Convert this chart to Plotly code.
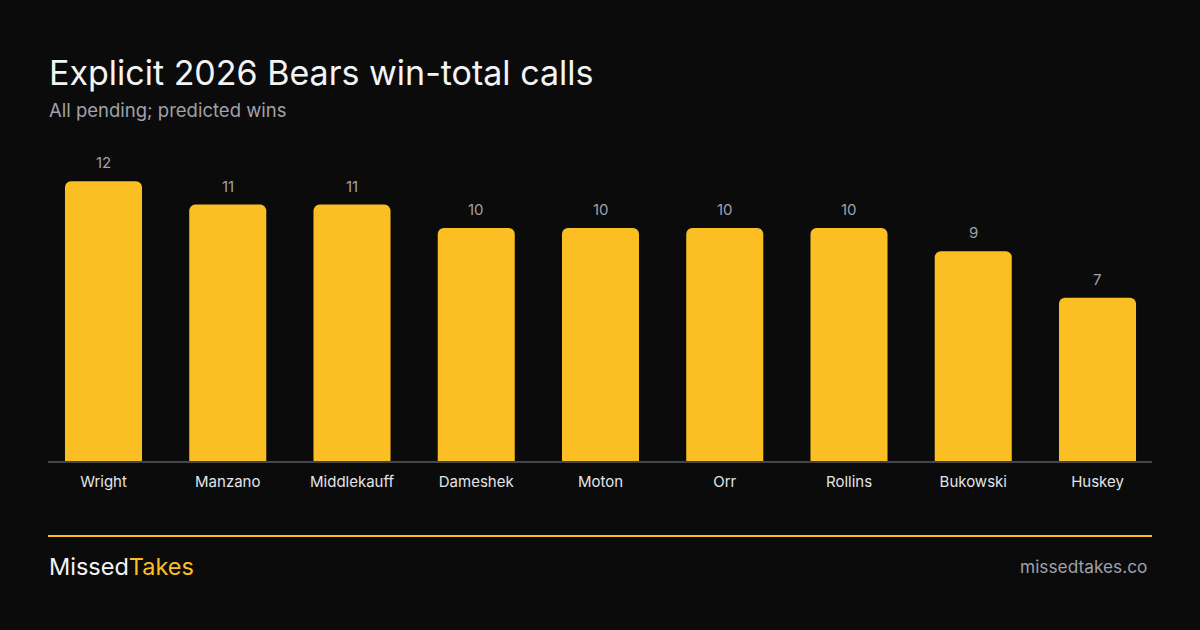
import plotly.graph_objects as go

players = ["Wright", "Manzano", "Middlekauff", "Dameshek", "Moton", "Orr", "Rollins", "Bukowski", "Huskey"]
wins = [12, 11, 11, 10, 10, 10, 10, 9, 7]

title_text = "Explicit 2026 Bears win-total calls"
subtitle_text = "All pending; predicted wins"
brand_a = "Missed"
brand_b = "Takes"
site_text = "missedtakes.co"

W, H = 1200, 630
BG = "#0b0b0b"
BAR = "#fbbf24"
FONT = "Inter"

# plot area in pixels
L, R = 48, 1152
TOP, BOT = 157.7, 461

def px(xp):
    return (xp - L) / (R - L)

def py(yp):
    return (BOT - yp) / (BOT - TOP)

fig = go.Figure()
fig.add_trace(go.Bar(
    x=list(range(len(players))), y=wins, width=0.62,
    marker=dict(color=BAR, line=dict(width=0)),
    hoverinfo="skip",
))

annotations = []
for i, v in enumerate(wins):
    annotations.append(dict(x=i, y=v, xref="x", yref="y", text=str(v), showarrow=False,
                            yanchor="bottom", yshift=7,
                            font=dict(family=FONT, size=15, color="#a1a1aa")))

annotations += [
    dict(x=px(47), y=py(72), xref="paper", yref="paper", text=title_text, showarrow=False,
         xanchor="left", yanchor="middle", font=dict(family=FONT, size=34, color="#f4f4f5")),
    dict(x=px(47), y=py(110), xref="paper", yref="paper", text=subtitle_text, showarrow=False,
         xanchor="left", yanchor="middle", font=dict(family=FONT, size=18.5, color="#a1a1aa")),
    dict(x=px(47), y=py(567), xref="paper", yref="paper",
         text=f"<span style='color:#f4f4f5'>{brand_a}</span><span style='color:{BAR}'>{brand_b}</span>",
         showarrow=False, xanchor="left", yanchor="middle", font=dict(family=FONT, size=23.5)),
    dict(x=px(1149), y=py(567), xref="paper", yref="paper", text=site_text, showarrow=False,
         xanchor="right", yanchor="middle", font=dict(family=FONT, size=17.3, color="#a1a1aa")),
]

shapes = [
    dict(type="line", xref="paper", yref="paper", x0=px(48), x1=px(1152), y0=py(536), y1=py(536),
         line=dict(color=BAR, width=2)),
]

fig.update_layout(
    width=W, height=H,
    paper_bgcolor=BG, plot_bgcolor=BG,
    margin=dict(l=L, r=W - R, t=TOP, b=H - BOT, pad=0),
    showlegend=False,
    barcornerradius=6,
    annotations=annotations,
    shapes=shapes,
    xaxis=dict(range=[-0.4467, 8.4386], tickmode="array", tickvals=list(range(len(players))),
               ticktext=players, showgrid=False, zeroline=False,
               showline=True, linecolor="#44444c", linewidth=2,
               ticks="", ticklabelstandoff=6,
               tickfont=dict(family=FONT, size=15, color="#e4e4e7"), fixedrange=True),
    yaxis=dict(range=[0, 13], visible=False, showgrid=False, zeroline=False, fixedrange=True),
)

fig.write_html("out.html", config={"displayModeBar": False},
               post_script="document.body.style.margin='0';document.body.style.background='#0b0b0b';")
